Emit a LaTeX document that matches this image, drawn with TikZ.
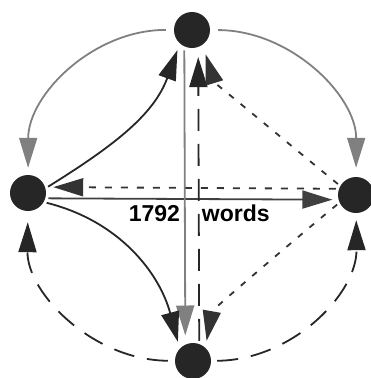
\documentclass[tikz,border=0pt]{standalone}
\usepackage{fontspec}
\setmainfont{Liberation Sans}
\usetikzlibrary{arrows.meta}

\begin{document}
\begin{tikzpicture}[x=1pt,y=1pt,
  state/.style={circle,fill=black!85,minimum size=36pt,inner sep=0pt},
  tip/.style={-{Triangle[length=30pt,width=18pt]}},
  grayedge/.style={tip,line width=1.8pt,draw=black!50,shorten <=4pt},
  solidedge/.style={tip,line width=1.8pt,draw=black!85,shorten <=3pt},
  longdash/.style={tip,line width=1.8pt,draw=black!85,dash pattern=on 21pt off 13pt,shorten <=3pt},
  shortdash/.style={tip,line width=1.8pt,draw=black!80,dash pattern=on 6pt off 9pt,shorten <=3pt},
  lbl/.style={inner sep=0pt,font=\fontsize{23}{27}\selectfont\bfseries}]

\useasboundingbox (0,0) rectangle (371,-378);

% the four states
\node[state] (T) at (192,-30) {};
\node[state] (L) at (28,-193) {};
\node[state] (R) at (356,-195) {};
\node[state] (B) at (193,-361) {};

% outer arcs
\draw[grayedge,shorten <=8pt,shorten >=7pt] (T) to[bend right=45] (L);
\draw[grayedge,shorten <=8pt,shorten >=9pt] (T) to[bend left=45] (R);
\draw[longdash,shorten <=7pt,shorten >=11pt] (B) to[bend left=45] (L);
\draw[longdash,shorten <=6pt,shorten >=7pt] (B) to[bend right=45] (R);

% across the middle
\draw[solidedge,draw=black!75,shorten >=6pt] (L.-17) -- node[lbl,pos=.525,below=5pt] {1792\hspace{22pt}words} (R.195);
\draw[shortdash,dash pattern=on 7pt off 9pt,shorten >=8pt] (R.160) -- (L.19);
\draw[grayedge,shorten >=9pt] (T.-115) -- (B.115);
\draw[longdash,dash pattern=on 22pt off 13pt,shorten >=10pt] (B.70) -- (T.-70);

% curved ones
\draw[solidedge,shorten >=7pt] (L.15) to[out=32,in=-110] (T.-132);
\draw[solidedge,shorten >=7pt] (L.-30) to[out=-14,in=105] (B.137);
\draw[shortdash,looseness=.5,shorten >=10pt] (R.150) to[out=141,in=-73] (T.-54);
\draw[shortdash,looseness=.5,shorten >=7pt] (R.-155) to[out=219,in=80] (B.47);

\end{tikzpicture}
\end{document}
